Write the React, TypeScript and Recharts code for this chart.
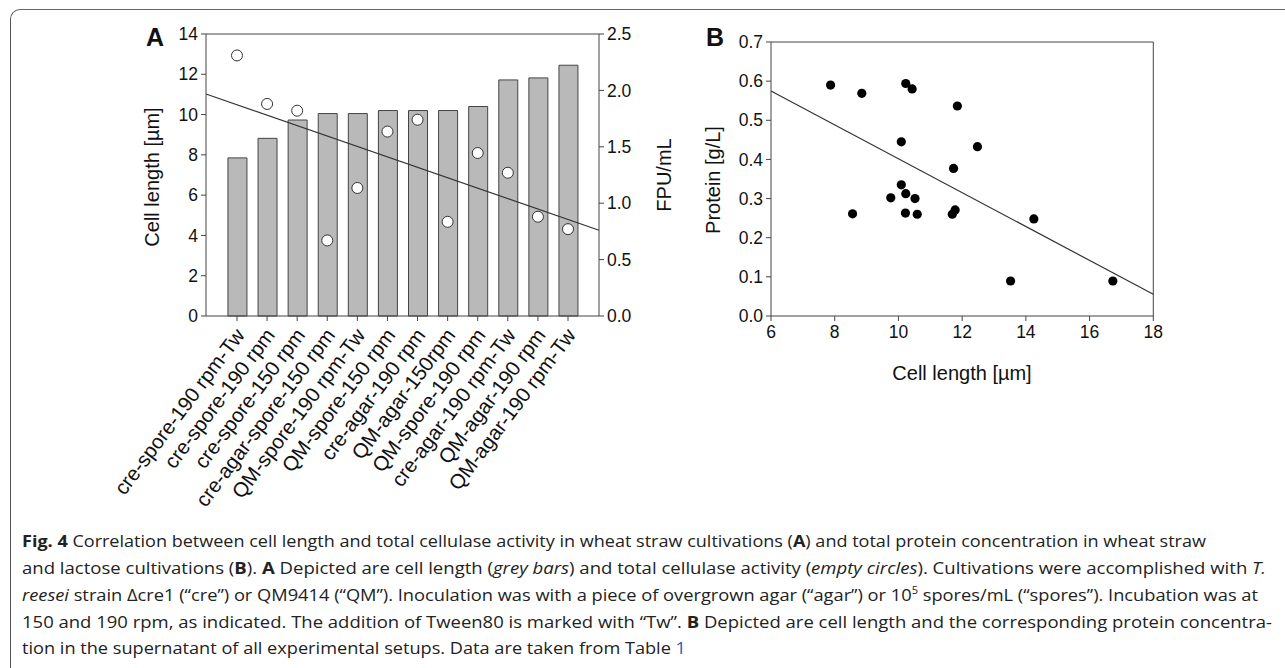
import { ComposedChart, ScatterChart, Bar, Scatter, XAxis, YAxis, ReferenceLine } from "recharts";

// Panel A: cell length (bars) and FPU/mL (open circles) per cultivation
const categories = [
  "cre-spore-190 rpm-Tw", "cre-spore-190 rpm", "cre-spore-150 rpm", "cre-agar-spore-150 rpm",
  "QM-spore-190 rpm-Tw", "QM-spore-150 rpm", "cre-agar-190 rpm", "QM-agar-150rpm",
  "QM-spore-190 rpm", "cre-agar-190 rpm-Tw", "QM-agar-190 rpm", "QM-agar-190 rpm-Tw",
];
const cellLength = [7.85, 8.82, 9.73, 10.05, 10.05, 10.2, 10.2, 10.2, 10.4, 11.72, 11.82, 12.45];
const fpu = [2.31, 1.88, 1.82, 0.67, 1.135, 1.635, 1.74, 0.835, 1.445, 1.27, 0.88, 0.77];
const leftTicks = [0, 2, 4, 6, 8, 10, 12, 14];
const rightTicks = [0, 0.5, 1, 1.5, 2, 2.5];
// regression line end points (FPU/mL) at the plot edges
const trendA = [{ x: -1.03, y: 1.968 }, { x: 12.03, y: 0.76 }];

// Panel B: cell length vs protein
const protX = [7.87, 8.85, 8.56, 10.23, 10.43, 10.09, 10.09, 10.23, 9.76, 10.52, 10.22, 10.59, 11.85, 11.73, 11.78, 11.69, 12.48, 14.25, 13.52, 16.73];
const protY = [0.59, 0.569, 0.261, 0.594, 0.58, 0.445, 0.335, 0.3125, 0.302, 0.3, 0.263, 0.26, 0.5365, 0.377, 0.271, 0.26, 0.4326, 0.248, 0.0894, 0.0894];
const bXTicks = [6, 8, 10, 12, 14, 16, 18];
const bYTicks = [0, 0.1, 0.2, 0.3, 0.4, 0.5, 0.6, 0.7];
const trendB = [{ x: 6, y: 0.575 }, { x: 18, y: 0.0554 }];

const dataA = categories.map((name, i) => ({ idx: i, name, len: cellLength[i], fpu: fpu[i] }));
const dataB = protX.map((x, i) => ({ x, y: protY[i] }));

const FONT = "'Liberation Sans', Arial, sans-serif";
const AX = "#444";
const tickStyle = { fontSize: 17.5, fill: "#111", fontFamily: FONT };
const titleStyle = { position: "absolute" as const, fontSize: 20, whiteSpace: "nowrap" as const, color: "#111" };

const CatTick = (props: any) => {
  const { x, y, payload } = props;
  return (
    <g transform={`translate(${x + 3},${y + 8}) rotate(-53)`}>
      <text x={0} y={0} dy="0.35em" textAnchor="end" fontSize={20.5} fill="#111" fontFamily={FONT}>
        {categories[payload.value]}
      </text>
    </g>
  );
};

const OpenCircle = (props: any) => {
  const { cx, cy } = props;
  return <circle cx={cx} cy={cy} r={5.5} fill="#fff" stroke="#333" strokeWidth={1} />;
};

const Dot = (props: any) => {
  const { cx, cy } = props;
  return <circle cx={cx} cy={cy} r={4.6} fill="#000" />;
};

function Caption() {
  const sz = 16.5;
  const ff = "'Open Sans', 'Noto Sans', sans-serif";
  return (
    <svg width={1285} height={668} style={{ position: "absolute", left: 0, top: 0 }}>
      <text x={22} y={547} fontSize={sz} fontFamily={ff} fill="#222" textLength={1184} lengthAdjust="spacingAndGlyphs">
        <tspan fontWeight="bold">Fig. 4</tspan>{"  Correlation between cell length and total cellulase activity in wheat straw cultivations ("}
        <tspan fontWeight="bold">A</tspan>{") and total protein concentration in wheat straw"}
      </text>
      <text x={22} y={574} fontSize={sz} fontFamily={ff} fill="#222" textLength={1244} lengthAdjust="spacingAndGlyphs">
        {"and lactose cultivations ("}<tspan fontWeight="bold">B</tspan>{"). "}<tspan fontWeight="bold">A</tspan>
        {" Depicted are cell length ("}<tspan fontStyle="italic">grey bars</tspan>{") and total cellulase activity ("}
        <tspan fontStyle="italic">empty circles</tspan>{"). Cultivations were accomplished with "}<tspan fontStyle="italic">T.</tspan>
      </text>
      <text x={22} y={601} fontSize={sz} fontFamily={ff} fill="#222" textLength={1236} lengthAdjust="spacingAndGlyphs">
        <tspan fontStyle="italic">reesei</tspan>{" strain Δcre1 (“cre”) or QM9414 (“QM”). Inoculation was with a piece of overgrown agar (“agar”) or 10"}
        <tspan fontSize={10} dy={-7}>5</tspan><tspan dy={7}>{" spores/mL (“spores”). Incubation was at"}</tspan>
      </text>
      <text x={22} y={628} fontSize={sz} fontFamily={ff} fill="#222" textLength={1250} lengthAdjust="spacingAndGlyphs">
        {"150 and 190 rpm, as indicated. The addition of Tween80 is marked with “Tw”. "}<tspan fontWeight="bold">B</tspan>
        {" Depicted are cell length and the corresponding protein concentra-"}
      </text>
      <text x={22} y={654} fontSize={sz} fontFamily={ff} fill="#222" textLength={664} lengthAdjust="spacingAndGlyphs">
        {"tion in the supernatant of all experimental setups. Data are taken from Table "}<tspan fill="#2a5db0">1</tspan>
      </text>
    </svg>
  );
}

export default function App() {
  return (
    <div style={{ position: "absolute", left: 0, top: 0, width: 1285, height: 668, overflow: "hidden", background: "#fff", fontFamily: FONT }}>
      {/* figure frame: top and left edge with rounded corner */}
      <div style={{ position: "absolute", left: 10, top: 9, width: 1400, height: 800, borderTop: "1.5px solid #666", borderLeft: "1.5px solid #555", borderTopLeftRadius: 10 }} />

      {/* Panel A */}
      <div style={{ position: "absolute", left: 0, top: 0 }}>
        <ComposedChart width={700} height={520} data={dataA} margin={{ top: 34, right: 51, bottom: 4, left: 156 }}>
          <XAxis
            dataKey="idx"
            type="number"
            domain={[-1.03, 12.03]}
            ticks={categories.map((_, i) => i)}
            interval={0}
            height={200}
            stroke={AX}
            tickSize={5}
            tick={<CatTick />}
          />
          <YAxis yAxisId="left" domain={[0, 14]} ticks={leftTicks} width={50} stroke={AX} tickSize={5} tick={tickStyle} tickMargin={3} />
          <YAxis yAxisId="right" orientation="right" domain={[0, 2.5]} ticks={rightTicks} width={50} stroke={AX} tickSize={5} tick={tickStyle} tickMargin={3}
            tickFormatter={(v: number) => v.toFixed(1)} />
          <ReferenceLine yAxisId="left" y={14} stroke={AX} />
          <Bar yAxisId="left" dataKey="len" barSize={19} fill="#b9b9b9" stroke="#444" strokeWidth={1} isAnimationActive={false} />
          <ReferenceLine yAxisId="right" segment={trendA} stroke="#333" strokeWidth={1.2} ifOverflow="visible" />
          <Scatter yAxisId="right" dataKey="fpu" shape={<OpenCircle />} isAnimationActive={false} />
        </ComposedChart>
      </div>
      <div style={{ position: "absolute", left: 146, top: 23, fontSize: 25, fontWeight: "bold", color: "#111" }}>A</div>
      <div style={{ ...titleStyle, left: 152, top: 177, transform: "translate(-50%,-50%) rotate(-90deg)" }}>Cell length [µm]</div>
      <div style={{ ...titleStyle, left: 664, top: 175, transform: "translate(-50%,-50%) rotate(-90deg)" }}>FPU/mL</div>

      {/* Panel B */}
      <div style={{ position: "absolute", left: 700, top: 0 }}>
        <ScatterChart width={520} height={400} margin={{ top: 42, right: 66.7, bottom: 44, left: 21 }}>
          <XAxis dataKey="x" type="number" domain={[6, 18]} ticks={bXTicks} height={40} stroke={AX} tickSize={5} tick={tickStyle} tickMargin={5} />
          <YAxis dataKey="y" type="number" domain={[0, 0.7]} ticks={bYTicks} width={50} stroke={AX} tickSize={5} tick={tickStyle} tickMargin={3}
            tickFormatter={(v: number) => v.toFixed(1)} />
          <ReferenceLine y={0.7} stroke={AX} />
          <ReferenceLine x={18} stroke={AX} />
          <ReferenceLine segment={trendB} stroke="#333" strokeWidth={1.2} />
          <Scatter data={dataB} shape={<Dot />} isAnimationActive={false} />
        </ScatterChart>
      </div>
      <div style={{ position: "absolute", left: 706, top: 23, fontSize: 25, fontWeight: "bold", color: "#111" }}>B</div>
      <div style={{ ...titleStyle, left: 713, top: 180, transform: "translate(-50%,-50%) rotate(-90deg)" }}>Protein [g/L]</div>
      <div style={{ ...titleStyle, left: 962, top: 373, transform: "translate(-50%,-50%)" }}>Cell length [µm]</div>

      <Caption />
    </div>
  );
}
